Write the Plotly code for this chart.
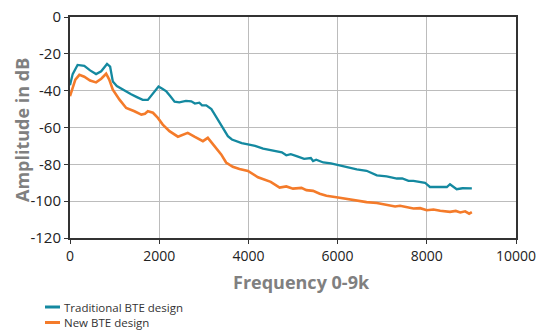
import plotly.graph_objects as go

freq_trad = [0, 60, 170, 320, 450, 585, 700, 830, 900, 960, 1050, 1150, 1250, 1370, 1500, 1630, 1745, 1850, 1985, 2070, 2160, 2250, 2345, 2450, 2600, 2720, 2800, 2900, 2960, 3055, 3170, 3260, 3355, 3450, 3540, 3630, 3730, 3850, 3990, 4150, 4330, 4450, 4630, 4750, 4850, 4950, 5080, 5250, 5400, 5450, 5520, 5680, 5850, 6010, 6200, 6430, 6650, 6880, 7100, 7330, 7450, 7590, 7700, 7830, 7960, 8070, 8250, 8450, 8520, 8670, 8800, 9010]
amp_trad = [-37, -31, -26, -26.5, -29, -31, -29.5, -25.5, -27, -35, -37.5, -39, -40.5, -42, -43.5, -45, -45, -42, -37.7, -39, -40.4, -43, -46, -46.3, -45.5, -45.8, -47, -46.5, -48, -48, -50, -53.5, -57.5, -61.5, -64.7, -66.5, -67.4, -68.5, -69.2, -70, -71.5, -72, -72.8, -73.5, -75.1, -74.5, -75.5, -77, -76.6, -78.2, -77.5, -79, -79.5, -80.5, -81.5, -82.7, -83.5, -86, -86.5, -87.7, -87.7, -89, -89, -89.5, -90, -92.3, -92.3, -92.3, -90.8, -93.5, -93, -93.1]

freq_new = [0, 60, 120, 210, 320, 450, 585, 700, 810, 880, 960, 1110, 1260, 1445, 1600, 1680, 1745, 1860, 1970, 2080, 2230, 2420, 2520, 2640, 2790, 2980, 3090, 3240, 3390, 3500, 3650, 3800, 3990, 4215, 4350, 4500, 4700, 4850, 5000, 5190, 5300, 5450, 5600, 5750, 6010, 6200, 6430, 6650, 6880, 7100, 7290, 7400, 7590, 7700, 7850, 8000, 8150, 8300, 8520, 8650, 8750, 8860, 8950, 9010]
amp_new = [-43, -38, -34, -31.4, -32.4, -34.5, -35.5, -33.5, -30.8, -34, -39.5, -44.9, -49.4, -51.2, -53, -52.5, -51.2, -52, -54.8, -58.4, -62, -65, -64, -62.9, -65, -67.4, -65.6, -70.1, -74.6, -79, -81.3, -82.5, -83.6, -87, -88, -89.5, -92.6, -92, -93.2, -92.8, -94, -94.4, -96, -97.1, -98, -98.8, -99.8, -100.5, -101, -102, -102.9, -102.5, -103.4, -104, -103.8, -104.9, -104.5, -105.2, -105.8, -105.3, -106.1, -105.5, -106.8, -106]

series_names = ["Traditional BTE design", "New BTE design"]
colors = ["#1489a0", "#f47b2a"]

x_ticks = [0, 2000, 4000, 6000, 8000, 10000]
y_ticks = [0, -20, -40, -60, -80, -100, -120]

fig = go.Figure()
fig.add_trace(go.Scatter(x=freq_trad, y=amp_trad, mode="lines", name=series_names[0],
                         line=dict(color=colors[0], width=2.3), showlegend=False))
fig.add_trace(go.Scatter(x=freq_new, y=amp_new, mode="lines", name=series_names[1],
                         line=dict(color=colors[1], width=2.6), showlegend=False))

# plot area geometry (px) used for the hand-drawn legend and titles
ML, MR, MT, MB = 70, 21, 17, 92
W, H = 537, 330
PW, PH = W - ML - MR, H - MT - MB

def px_x(x):
    return (x - ML) / PW

def px_y(y):
    return (H - MB - y) / PH

legend_y = [307, 322.5]
for name, col, py in zip(series_names, colors, legend_y):
    fig.add_shape(type="line", xref="paper", yref="paper",
                  x0=px_x(45), x1=px_x(60), y0=px_y(py), y1=px_y(py),
                  line=dict(color=col, width=3))
    fig.add_annotation(xref="paper", yref="paper", x=px_x(63), y=px_y(py),
                       xanchor="left", yanchor="middle", text=name, showarrow=False,
                       borderpad=0, font=dict(family="Open Sans", size=11.5, color="#333333"))

font_fam = "Open Sans"
title_font = dict(size=18, family=font_fam, color="#808080", weight="bold")

# axis titles
fig.add_annotation(xref="paper", yref="paper", x=px_x(301), y=px_y(282),
                   xanchor="center", yanchor="middle", text="Frequency 0-9k",
                   showarrow=False, font=title_font)
fig.add_annotation(xref="paper", yref="paper", x=px_x(22), y=px_y(130),
                   xanchor="center", yanchor="middle", text="Amplitude in dB",
                   textangle=-90, showarrow=False, font=title_font)

fig.update_layout(
    width=W, height=H,
    margin=dict(l=ML, r=MR, t=MT, b=MB),
    paper_bgcolor="white", plot_bgcolor="white",
    font=dict(family=font_fam, color="#222222"),
    xaxis=dict(range=[0, 10000], tickvals=x_ticks, ticktext=[str(v) for v in x_ticks],
               automargin=False,
               showgrid=True, gridcolor="#bcbcbc", gridwidth=1.3,
               showline=True, linecolor="#333333", linewidth=2, mirror=True,
               ticks="outside", ticklen=4, tickcolor="#333333",
               tickfont=dict(size=14, family=font_fam, color="#222222"),
               zeroline=False),
    yaxis=dict(range=[-120, 0], tickvals=y_ticks, ticktext=[str(v) for v in y_ticks],
               automargin=False,
               showgrid=True, gridcolor="#bcbcbc", gridwidth=1.3,
               showline=True, linecolor="#333333", linewidth=2, mirror=True,
               ticks="outside", ticklen=4, tickcolor="#333333",
               tickfont=dict(size=15, family=font_fam, color="#222222"),
               zeroline=False),
)

fig.write_html("out.html")
